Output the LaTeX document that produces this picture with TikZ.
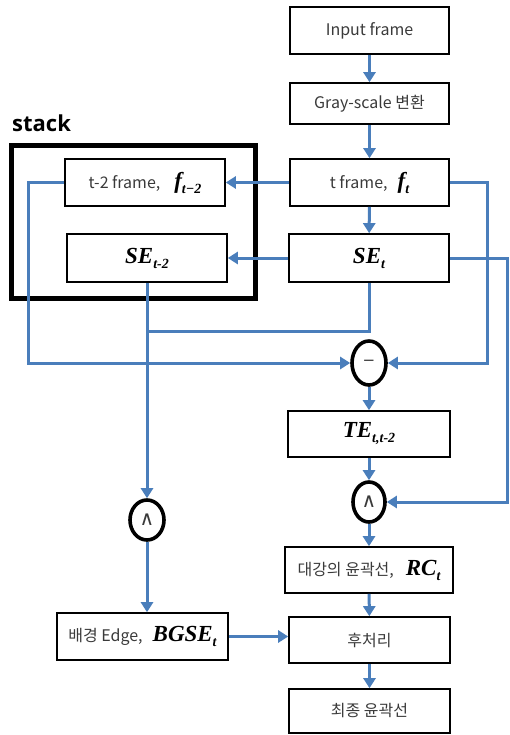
\documentclass[tikz,border=0pt]{standalone}
\usepackage{fontspec}
\setmainfont{Noto Sans CJK KR}
\newfontfamily\symfont{Liberation Serif}
\newfontfamily\opfont{DejaVu Sans}
\newfontfamily\stackfont{Open Sans}
\usetikzlibrary{arrows.meta,shapes.geometric}
\definecolor{lineblue}{HTML}{4A7EBB}
\definecolor{txtgray}{HTML}{3A3A3A}
\newcommand\msym[2]{{\symfont\bfseries\itshape\fontsize{23}{23}\selectfont\color{black}#1\raisebox{-5pt}{\fontsize{14}{14}\selectfont #2}}}
\tikzset{
  box/.style={draw=black, line width=1.6pt, minimum height=47, inner sep=0pt, text=txtgray, font=\fontsize{16}{16}\selectfont},
  opnode/.style={ellipse, draw=black, line width=3.6pt, minimum width=32, minimum height=42, inner sep=0pt, text=txtgray, font=\opfont\fontsize{15}{15}\selectfont},
  conn/.style={draw=lineblue, line width=3pt},
  arr/.style={conn, -{Triangle[length=10pt,width=12pt]}},
}
\begin{document}
\begin{tikzpicture}[x=1pt,y=-1pt]
\useasboundingbox (0,0) rectangle (509,735);
% stack
\node[draw=black, line width=4.5pt, minimum width=244, minimum height=153, inner sep=0pt] (stack) at (133.5,222) {};
\node[anchor=base west, inner sep=0pt, font=\stackfont\bfseries\fontsize{22}{22}\selectfont] (stacklbl) at (12,132) {stack};
% main column
\node[box, minimum width=159] (inp) at (369.5,30.5) {Input frame};
\node[box, minimum width=159, minimum height=41] (gray) at (369.5,103.5) {Gray-scale 변환};
\node[box, minimum width=159] (tf) at (369.5,182.5) {t frame,\hspace{10pt}\msym{f}{t}};
\node[box, minimum width=160] (t2f) at (145,182.5) {t-2 frame,\hspace{14pt}\msym{f}{t−2}};
\node[box, minimum width=160, minimum height=48] (se2) at (147,258) {\msym{SE}{t-2}};
\node[box, minimum width=160, minimum height=48] (se) at (369,258) {\msym{SE}{t}};
\node[opnode, minimum height=44, minimum width=34] (minus) at (369,363) {−};
\node[box, minimum width=162, minimum height=46] (te) at (369,434) {\msym{TE}{t,t-2}};
\node[opnode, minimum height=40] (andR) at (369,502) {\fontsize{20}{20}\selectfont ∧};
\node[opnode, minimum height=40, minimum width=34] (andL) at (147,520) {\fontsize{20}{20}\selectfont ∧};
\node[box, minimum width=168, minimum height=46] (rc) at (369,570) {대강의 윤곽선,\hspace{12pt}\msym{RC}{t}};
\node[box, minimum width=161, minimum height=46] (post) at (369.5,640) {후처리};
\node[box, minimum width=161, minimum height=44] (final) at (369.5,711) {최종 윤곽선};
\node[box, minimum width=171] (bgse) at (142.5,636.5) {배경 Edge,\hspace{10pt}\msym{BGSE}{t}};
% helper coordinates
\coordinate (r1) at (487,0);
\coordinate (l1) at (28,0);
\coordinate (r2) at (507,0);
\coordinate (j1) at (147,331);
% connectors
\draw[arr] (inp) -- (gray);
\draw[arr] (gray) -- (tf);
\draw[arr] (tf.west) -- (t2f.east);
\draw[arr] (tf) -- (se);
\draw[arr] (se.west) -- (se2.east);
\draw[arr] (tf.east) -- (tf.east -| r1) |- (minus.east);
\draw[arr] (t2f.west) -- (t2f.west -| l1) |- (minus.west);
\draw[conn] (se.south) -- (se.south |- j1) -- (j1);
\draw[arr] (se2.south) -- (andL.north);
\draw[arr] (minus) -- (te);
\draw[arr] (te) -- (andR);
\draw[arr] (se.east) -- (se.east -| r2) |- (andR.east);
\draw[arr] (andR) -- (rc);
\draw[arr] (rc) -- (post);
\draw[arr] (post) -- (final);
\draw[arr] (andL.south) -- (andL.south |- bgse.north);
\draw[arr] (bgse.east) -- (bgse.east -| post.west);
\end{tikzpicture}
\end{document}
